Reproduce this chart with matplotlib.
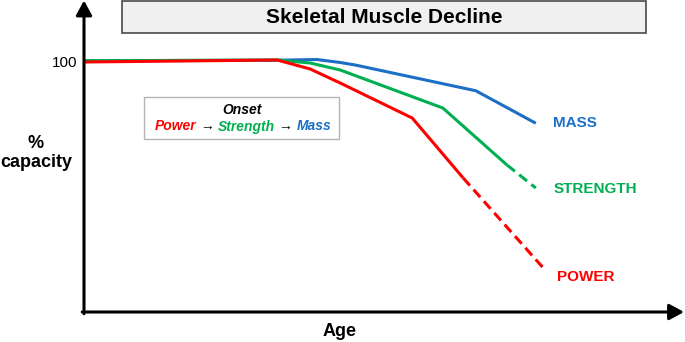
import matplotlib
matplotlib.use("Agg")
import matplotlib.pyplot as plt
from matplotlib.patches import Rectangle
from matplotlib.text import Annotation

plt.rcParams['font.family'] = ['Liberation Sans', 'DejaVu Sans']

# age (arbitrary units) vs % capacity
mass_age = [0, 32, 38.8, 42.7, 45.2, 65.3, 75.3]
mass_cap = [100.5, 100.7, 101, 99.8, 98.8, 88.5, 75.5]

strength_age = [0, 32.2, 37.7, 42.7, 59.8, 70.5]
strength_cap = [100.5, 100.8, 99.6, 96.8, 81.6, 58.8]
strength_proj_age = [70.5, 75.3]
strength_proj_cap = [58.8, 49.6]

power_age = [0, 32.2, 37.7, 42.7, 54.7, 63.2]
power_cap = [100, 100.8, 97.2, 91.6, 77.6, 53.6]
power_proj_age = [63.2, 76.7]
power_proj_cap = [53.6, 17.2]

labels = ['MASS', 'STRENGTH', 'POWER']
label_pos = [(78.2, 75.6), (78.2, 49.2), (78.8, 14)]

RED = '#ff0000'
GREEN = '#00b050'
BLUE = '#1c6fc4'
colors = [BLUE, GREEN, RED]

W, H = 685, 342
fig = plt.figure(figsize=(W / 100, H / 100), dpi=100)


def px(x, y):
  # pixel position -> figure fraction
  return x / W, 1 - y / H


ax = fig.add_axes([84 / W, 30 / H, 600 / W, 312 / H])
ax.set_xlim(0, 100)
ax.set_ylim(0, 124.8)
for s in ax.spines.values():
  s.set_visible(False)

lw = 2.2
dash = (0, (3.3, 1.8))
ax.plot(mass_age, mass_cap, color=BLUE, lw=lw, solid_capstyle='butt')
ax.plot(strength_age, strength_cap, color=GREEN, lw=lw, solid_capstyle='butt')
ax.plot(strength_proj_age, strength_proj_cap, color=GREEN, lw=lw, ls=dash)
ax.plot(power_age, power_cap, color=RED, lw=lw, solid_capstyle='butt')
ax.plot(power_proj_age, power_proj_cap, color=RED, lw=lw, ls=dash)

for lab, (x, y), c in zip(labels, label_pos, colors):
  ax.text(x, y, lab, color=c, fontsize=11, fontweight='bold', ha='left', va='center')

# axes with arrow heads
arrow = dict(arrowstyle='-|>,head_length=0.55,head_width=0.3', lw=lw, color='black',
             shrinkA=0, shrinkB=0, mutation_scale=16)
ax.annotate('', xy=(100, 0), xytext=(-0.3, 0), arrowprops=arrow, annotation_clip=False)
ax.annotate('', xy=(0, 124.6), xytext=(0, -0.7), arrowprops=arrow, annotation_clip=False)

ax.set_xticks([])
ax.set_yticks([100])
ax.set_yticklabels(['100'], fontsize=11)
ax.tick_params(axis='y', length=0, pad=5)

ax.set_xlabel('Age', fontsize=13, fontweight='bold', va='center')
ax.xaxis.set_label_coords(0.4267, -0.064)
ax.set_ylabel('%\ncapacity', fontsize=13, fontweight='bold', rotation=0,
              ha='center', va='center', linespacing=1.15)
ax.yaxis.set_label_coords(-0.08, 0.51)

# title box
x0, y0 = px(122, 33)
x1, y1 = px(646, 0.6)
fig.patches.append(Rectangle((x0, y0), x1 - x0, y1 - y0, transform=fig.transFigure,
                             fc='#f0f0f0', ec='#4a4a4a', lw=1.2))
fig.text(*px(384, 17.5), 'Skeletal Muscle Decline', fontsize=15, fontweight='bold',
         ha='center', va='center')

# onset box
x0, y0 = px(144, 139)
x1, y1 = px(339, 97)
fig.patches.append(Rectangle((x0, y0), x1 - x0, y1 - y0, transform=fig.transFigure,
                             fc='white', ec='#b4b4b4', lw=1.0))
fig.text(*px(242, 110), 'Onset', fontsize=10, fontweight='bold', style='italic',
         ha='center', va='center')

# coloured sequence, each piece placed right after the previous one
pieces = [('Power', RED, True), (' \u2192 ', 'black', False), ('Strength', GREEN, True),
          (' \u2192 ', 'black', False), ('Mass', BLUE, True)]
prev = None
for txt, c, bold in pieces:
  kw = dict(fontsize=10, color=c, va='bottom', ha='left', zorder=5)
  if bold:
    kw.update(fontweight='bold', style='italic')
  if prev is None:
    prev = fig.text(*px(155, 133.5), txt, **kw)
  else:
    prev = fig.add_artist(Annotation(txt, xy=(1, 0), xycoords=prev,
                                     annotation_clip=False, **kw))

fig.savefig('out.png', dpi=100)
